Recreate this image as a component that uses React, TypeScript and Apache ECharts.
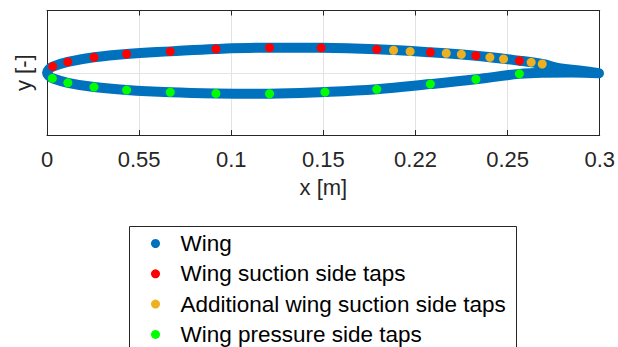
import React, { useEffect, useRef } from "react";
import * as echarts from "echarts";

// x tick labels as printed in the reference
const xTickLabels = ["0", "0.55", "0.1", "0.15", "0.22", "0.25", "0.3"];

// Wing outline (m)
const wingUpperX = [0, 0.001, 0.0031, 0.0113, 0.0255, 0.0432, 0.0669, 0.0917, 0.1208, 0.1488, 0.179, 0.2081, 0.2328, 0.2564, 0.2688, 0.278, 0.29, 0.2996];
const wingUpperY = [0, 0.0018, 0.0033, 0.0058, 0.0083, 0.0101, 0.0115, 0.0128, 0.0135, 0.0134, 0.0126, 0.011, 0.0092, 0.0065, 0.0047, 0.0025, 0.0011, -0.0003];
const wingLowerX = [0, 0.001, 0.0029, 0.0113, 0.0255, 0.0432, 0.0669, 0.0917, 0.1208, 0.1509, 0.179, 0.2081, 0.2328, 0.2564, 0.27, 0.285, 0.2996];
const wingLowerY = [0, -0.0017, -0.003, -0.0054, -0.0077, -0.0093, -0.0105, -0.0111, -0.0113, -0.0104, -0.0089, -0.0061, -0.0035, -0.0006, 0, 0.0001, -0.0003];

// Suction side taps
const suctionX = [0.0031, 0.0113, 0.0255, 0.0432, 0.0669, 0.0917, 0.1208, 0.1488, 0.179, 0.2081, 0.2328, 0.2564];
const suctionY = [0.0033, 0.0058, 0.0083, 0.0101, 0.0115, 0.0128, 0.0135, 0.0134, 0.0126, 0.011, 0.0092, 0.0065];

// Additional suction side taps
const addSuctionX = [0.1881, 0.1971, 0.2167, 0.2249, 0.2404, 0.2478, 0.2628, 0.2688];
const addSuctionY = [0.0121, 0.0115, 0.0105, 0.0099, 0.0083, 0.0074, 0.0056, 0.0047];

// Pressure side taps
const pressureX = [0.0029, 0.0113, 0.0255, 0.0432, 0.0669, 0.0917, 0.1208, 0.1509, 0.179, 0.2081, 0.2328, 0.2564];
const pressureY = [-0.003, -0.0054, -0.0077, -0.0093, -0.0105, -0.0111, -0.0113, -0.0104, -0.0089, -0.0061, -0.0035, -0.0006];

const seriesNames = ["Wing", "Wing suction side taps", "Additional wing suction side taps", "Wing pressure side taps"];

const zip = (xs: number[], ys: number[]) => xs.map((x, i) => [x, ys[i]]);

const FONT = "'Liberation Sans', Arial, Helvetica, sans-serif";

export default function App() {
  const ref = useRef<HTMLDivElement>(null);
  useEffect(() => {
    const chart = echarts.init(ref.current!, null, { renderer: "svg" });
    const wingPath = [
      ...zip(wingUpperX, wingUpperY).reverse(),
      ...zip(wingLowerX, wingLowerY).slice(1),
    ];
    const axisColor = "#262626";
    const gridColor = "#e3e3e3";
    chart.setOption({
      animation: false,
      backgroundColor: "#fff",
      textStyle: { fontFamily: FONT },
      grid: { left: 47, right: 14, top: 10.5, bottom: 212, show: false },
      xAxis: [
        {
          type: "value",
          min: 0,
          max: 0.3,
          interval: 0.05,
          position: "bottom",
          name: "x [m]",
          nameLocation: "middle",
          nameGap: 41,
          nameTextStyle: { fontSize: 22, color: axisColor, fontFamily: FONT },
          axisLine: { show: true, onZero: false, lineStyle: { color: axisColor, width: 1 } },
          axisTick: { show: true, inside: true, length: 5, lineStyle: { color: axisColor } },
          axisLabel: {
            fontSize: 22,
            color: axisColor,
            margin: 13,
            fontFamily: FONT,
            formatter: (v: number) => xTickLabels[Math.round(v / 0.05)] ?? "",
          },
          splitLine: { show: true, lineStyle: { color: gridColor, width: 1 } },
        },
        {
          type: "value",
          min: 0,
          max: 0.3,
          interval: 0.05,
          position: "top",
          axisLine: { show: true, onZero: false, lineStyle: { color: axisColor, width: 1 } },
          axisTick: { show: true, inside: true, length: 5, lineStyle: { color: axisColor } },
          axisLabel: { show: false },
          splitLine: { show: false },
        },
      ],
      yAxis: [
        {
          type: "value",
          min: -0.0335,
          max: 0.0335,
          interval: 0.0335,
          position: "left",
          name: "y [-]",
          nameLocation: "middle",
          nameGap: 13,
          nameTextStyle: { fontSize: 22, color: axisColor, fontFamily: FONT },
          axisLine: { show: true, onZero: false, lineStyle: { color: axisColor, width: 1 } },
          axisTick: { show: true, inside: true, length: 5, lineStyle: { color: axisColor } },
          axisLabel: { show: false },
          splitLine: { show: true, lineStyle: { color: gridColor, width: 1 } },
        },
        {
          type: "value",
          min: -0.0335,
          max: 0.0335,
          interval: 0.0335,
          position: "right",
          axisLine: { show: true, onZero: false, lineStyle: { color: axisColor, width: 1 } },
          axisTick: { show: true, inside: true, length: 5, lineStyle: { color: axisColor } },
          axisLabel: { show: false },
          splitLine: { show: false },
        },
      ],
      legend: {
        orient: "vertical",
        left: 151,
        top: 232,
        height: 200,
        padding: 0,
        itemWidth: 40,
        itemHeight: 9,
        itemGap: 7.3,
        textStyle: { fontSize: 22.5, color: "#000", lineHeight: 14, fontFamily: FONT },
        data: seriesNames.map((n) => ({ name: n, icon: "circle" })),
      },
      graphic: [
        {
          type: "rect",
          shape: { x: 129.5, y: 226.5, width: 387, height: 140 },
          style: { fill: "#fff", stroke: "#262626", lineWidth: 1 },
          z: -1,
          silent: true,
        },
      ],
      series: [
        {
          name: seriesNames[0],
          type: "line",
          data: wingPath,
          smooth: 0.4,
          showSymbol: false,
          color: "#0072BD",
          lineStyle: { color: "#0072BD", width: 10, cap: "round", join: "round" },
          itemStyle: { color: "#0072BD" },
          z: 2,
        },
        {
          name: seriesNames[1],
          type: "scatter",
          data: zip(suctionX, suctionY),
          symbol: "circle",
          symbolSize: 9,
          itemStyle: { color: "#FF0000", opacity: 1 },
          z: 3,
        },
        {
          name: seriesNames[2],
          type: "scatter",
          data: zip(addSuctionX, addSuctionY),
          symbol: "circle",
          symbolSize: 9,
          itemStyle: { color: "#EDB120", opacity: 1 },
          z: 3,
        },
        {
          name: seriesNames[3],
          type: "scatter",
          data: zip(pressureX, pressureY),
          symbol: "circle",
          symbolSize: 9,
          itemStyle: { color: "#00FF00", opacity: 1 },
          z: 3,
        },
      ],
    });
    return () => chart.dispose();
  }, []);
  return (
    <div
      ref={ref}
      style={{ position: "absolute", left: 0, top: 0, width: 618, height: 347 }}
    />
  );
}
